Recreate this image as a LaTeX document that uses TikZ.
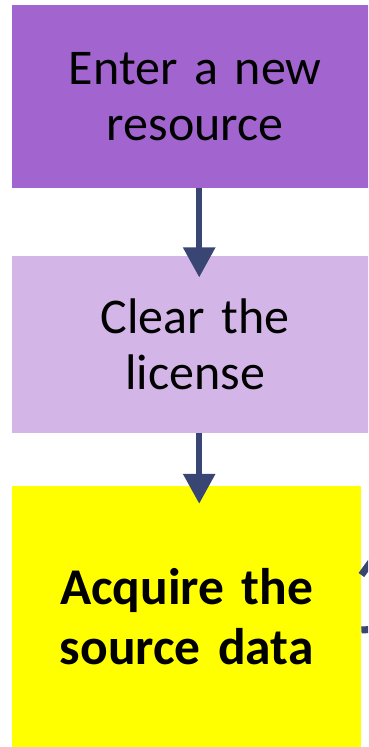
\documentclass[tikz,border=0pt]{standalone}
\usepackage{fontspec}
\setmainfont{Carlito}
\usepackage{tikz}
\usetikzlibrary{arrows.meta, positioning}
\definecolor{stepPurple}{RGB}{162,101,208}
\definecolor{stepLilac}{RGB}{212,181,232}
\definecolor{stepYellow}{RGB}{255,255,0}
\definecolor{flowBlue}{RGB}{57,69,114}
\tikzstyle{stepbox} = [rectangle, inner sep=0pt, minimum width=366pt, text centered, text width=340pt, font=\fontsize{50}{56}\selectfont]
\tikzstyle{mainstep} = [rectangle, inner sep=0pt, minimum width=349pt, minimum height=262pt, text centered, text width=340pt, fill=stepYellow, font=\fontsize{51.5}{60}\selectfont\bfseries]
\tikzstyle{flow} = [-{Triangle[width=31pt, length=30pt]}, line width=6pt, draw=flowBlue]
\tikzstyle{link} = [line width=7pt, draw=flowBlue]

\begin{document}
\begin{tikzpicture}[x=1pt, y=1pt]
    \clip (0,0) rectangle (368,747);
    % Nodes
    \node[stepbox, fill=stepPurple, minimum height=183pt, anchor=north west] (enter) at (12,742) {Enter a new\\resource};
    \node[stepbox, fill=stepLilac, minimum height=177pt, below=67pt of enter.south west, anchor=north west] (clear) {Clear the\\license};
    \node[mainstep, below=53pt of clear.south west, anchor=north west] (acquire) {Acquire the\\source data};
    \coordinate (outA) at (376,192);
    \coordinate (outB) at (380,118);

    % Arrows
    \draw[flow] ([xshift=4pt]enter.south) -- ([xshift=4pt, yshift=-22pt]clear.north);
    \draw[flow] ([xshift=4pt]clear.south) -- ([xshift=12.5pt, yshift=-18pt]acquire.north);
    \draw[link] ([yshift=42pt]acquire.east) -- (outA);
    \draw[link] ([yshift=-13pt]acquire.east) -- (outB);
\end{tikzpicture}
\end{document}
